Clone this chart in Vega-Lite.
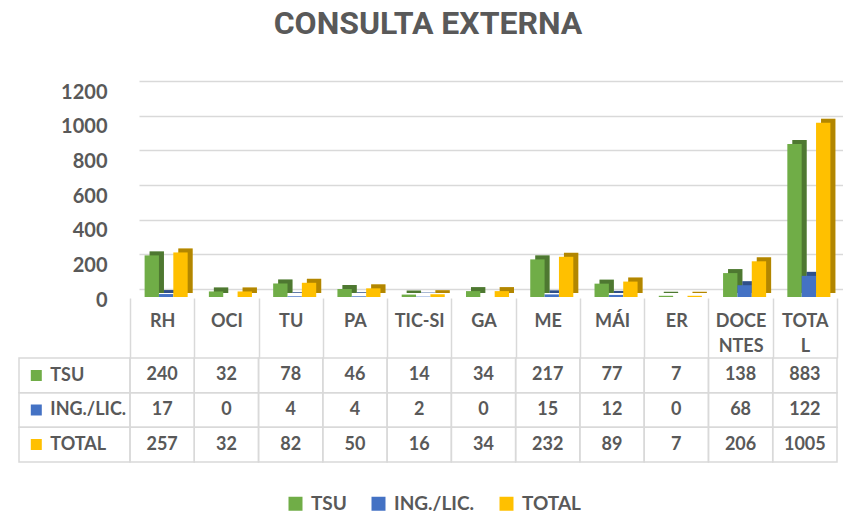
{
  "$schema": "https://vega.github.io/schema/vega-lite/v6.json",
  "padding": {"left": 18, "top": 8, "right": 5, "bottom": 4},
  "background": "white",
  "title": {"text": "CONSULTA EXTERNA", "font": "Roboto", "fontSize": 32, "fontWeight": "bold", "color": "#595959", "anchor": "middle", "offset": 40},
  "datasets": {
    "main": [
      {"cat": "RH", "series": "TSU", "value": 240},
      {"cat": "OCI", "series": "TSU", "value": 32},
      {"cat": "TU", "series": "TSU", "value": 78},
      {"cat": "PA", "series": "TSU", "value": 46},
      {"cat": "TIC-SI", "series": "TSU", "value": 14},
      {"cat": "GA", "series": "TSU", "value": 34},
      {"cat": "ME", "series": "TSU", "value": 217},
      {"cat": "MÁI", "series": "TSU", "value": 77},
      {"cat": "ER", "series": "TSU", "value": 7},
      {"cat": "DOCENTES", "series": "TSU", "value": 138},
      {"cat": "TOTAL", "series": "TSU", "value": 883},
      {"cat": "RH", "series": "ING./LIC.", "value": 17},
      {"cat": "OCI", "series": "ING./LIC.", "value": 0},
      {"cat": "TU", "series": "ING./LIC.", "value": 4},
      {"cat": "PA", "series": "ING./LIC.", "value": 4},
      {"cat": "TIC-SI", "series": "ING./LIC.", "value": 2},
      {"cat": "GA", "series": "ING./LIC.", "value": 0},
      {"cat": "ME", "series": "ING./LIC.", "value": 15},
      {"cat": "MÁI", "series": "ING./LIC.", "value": 12},
      {"cat": "ER", "series": "ING./LIC.", "value": 0},
      {"cat": "DOCENTES", "series": "ING./LIC.", "value": 68},
      {"cat": "TOTAL", "series": "ING./LIC.", "value": 122},
      {"cat": "RH", "series": "TOTAL", "value": 257},
      {"cat": "OCI", "series": "TOTAL", "value": 32},
      {"cat": "TU", "series": "TOTAL", "value": 82},
      {"cat": "PA", "series": "TOTAL", "value": 50},
      {"cat": "TIC-SI", "series": "TOTAL", "value": 16},
      {"cat": "GA", "series": "TOTAL", "value": 34},
      {"cat": "ME", "series": "TOTAL", "value": 232},
      {"cat": "MÁI", "series": "TOTAL", "value": 89},
      {"cat": "ER", "series": "TOTAL", "value": 7},
      {"cat": "DOCENTES", "series": "TOTAL", "value": 206},
      {"cat": "TOTAL", "series": "TOTAL", "value": 1005}
    ],
    "series": [
      {"series": "TSU"},
      {"series": "ING./LIC."},
      {"series": "TOTAL"}
    ]
  },
  "columns": 2,
  "spacing": {"row": 69, "column": 0},
  "bounds": "flush",
  "resolve": {"legend": {"color": "independent"}, "scale": {"x": "independent", "y": "independent"}},
  "concat": [
    {
      "width": 111, "height": 208,
      "data": {"name": "series"},
      "mark": {"type": "text", "text": ""},
      "encoding": {}
    },
    {
      "width": 707, "height": 208,
      "data": {"name": "main"},
      "encoding": {
        "y": {"field": "value", "type": "quantitative", "scale": {"domain": [0, 1200], "nice": false},
          "axis": {"values": [0, 200, 400, 600, 800, 1000, 1200], "format": "d", "title": null, "grid": true, "gridColor": "#d9d9d9", "gridWidth": 1.5, "domain": false, "ticks": false, "labelFont": "Lato", "labelFontSize": 20, "labelFontWeight": "bold", "labelColor": "#595959", "labelPadding": 23, "labelOffset": 11}},
        "xOffset": {"field": "series", "type": "nominal", "sort": null, "scale": {"domain": ["TSU", "ING./LIC.", "TOTAL"], "paddingInner": 0, "paddingOuter": 0}}
      },
      "layer": [
        {
          "mark": {"type": "bar", "yOffset": 4, "y2Offset": 4},
          "encoding": {
            "x": {"field": "cat", "type": "nominal", "sort": null, "scale": {"domain": ["RH", "OCI", "TU", "PA", "TIC-SI", "GA", "ME", "MÁI", "ER", "DOCENTES", "TOTAL"], "range": [9, 716], "paddingInner": 0.33, "paddingOuter": 0.165}, "axis": null},
            "color": {"field": "series", "type": "nominal", "sort": null, "scale": {"domain": ["TSU", "ING./LIC.", "TOTAL"], "range": ["#70AD47", "#4472C4", "#FFC000"]},
              "legend": {"title": null, "orient": "none", "legendX": 156, "legendY": 413, "direction": "horizontal", "symbolType": "square", "symbolSize": 196, "symbolStrokeWidth": 0, "labelFont": "Lato", "labelFontSize": 19, "labelFontWeight": "bold", "labelColor": "#595959", "labelOffset": 6, "columnPadding": 22, "padding": 0}}
          }
        },
        {
          "mark": {"type": "bar", "yOffset": 4, "y2Offset": 4, "color": "black", "opacity": 0.3},
          "encoding": {
            "x": {"field": "cat", "type": "nominal", "sort": null, "scale": {"domain": ["RH", "OCI", "TU", "PA", "TIC-SI", "GA", "ME", "MÁI", "ER", "DOCENTES", "TOTAL"], "range": [9, 716], "paddingInner": 0.33, "paddingOuter": 0.165}, "axis": null}
          }
        },
        {
          "mark": {"type": "bar", "yOffset": 8, "y2Offset": 8},
          "encoding": {
            "x": {"field": "cat", "type": "nominal", "sort": null, "scale": {"domain": ["RH", "OCI", "TU", "PA", "TIC-SI", "GA", "ME", "MÁI", "ER", "DOCENTES", "TOTAL"], "range": [4, 711], "paddingInner": 0.33, "paddingOuter": 0.165}, "axis": null},
            "color": {"field": "series", "type": "nominal", "sort": null, "scale": {"domain": ["TSU", "ING./LIC.", "TOTAL"], "range": ["#70AD47", "#4472C4", "#FFC000"]},
              "legend": {"title": null, "orient": "none", "legendX": 156, "legendY": 413, "direction": "horizontal", "symbolType": "square", "symbolSize": 196, "symbolStrokeWidth": 0, "labelFont": "Lato", "labelFontSize": 19, "labelFontWeight": "bold", "labelColor": "#595959", "labelOffset": 6, "columnPadding": 22, "padding": 0}}
          }
        }
      ],
      "resolve": {"scale": {"x": "independent", "xOffset": "independent"}}
    },
    {
      "width": 111, "height": 104,
      "data": {"name": "series"},
      "encoding": {
        "y": {"field": "series", "type": "nominal", "sort": null, "scale": {"domain": ["TSU", "ING./LIC.", "TOTAL"], "paddingInner": 0, "paddingOuter": 0}, "axis": null}
      },
      "layer": [
        {"mark": {"type": "rect", "filled": false, "stroke": "#d9d9d9", "strokeWidth": 1.5}},
        {
          "mark": {"type": "point", "opacity": 0, "filled": true, "shape": "square"},
          "encoding": {
            "color": {"field": "series", "type": "nominal", "sort": null, "scale": {"domain": ["TSU", "ING./LIC.", "TOTAL"], "range": ["#70AD47", "#4472C4", "#FFC000"]},
              "legend": {"title": null, "orient": "none", "legendX": 8.3, "legendY": 8.5, "direction": "vertical", "symbolType": "square", "symbolSize": 121, "symbolOpacity": 1, "symbolStrokeWidth": 0, "labelFont": "Lato", "labelFontSize": 18, "labelFontWeight": "bold", "labelColor": "#595959", "labelOffset": 5, "rowPadding": 16.5, "padding": 0}}
          }
        }
      ]
    },
    {
      "width": 707, "height": 104,
      "data": {"name": "main"},
      "encoding": {
        "x": {"field": "cat", "type": "nominal", "sort": null, "scale": {"domain": ["RH", "OCI", "TU", "PA", "TIC-SI", "GA", "ME", "MÁI", "ER", "DOCENTES", "TOTAL"], "paddingInner": 0, "paddingOuter": 0},
          "axis": {"orient": "top", "title": null, "domain": false, "tickBand": "extent", "tickSize": 60, "tickColor": "#d9d9d9", "tickWidth": 1.5, "labelAngle": 0, "labelFont": "Lato", "labelFontSize": 18, "labelFontWeight": "bold", "labelColor": "#595959", "labelBaseline": "top", "labelPadding": -14, "labelLineHeight": 25.5, "labelOverlap": false, "labelBound": false,
            "labelExpr": "datum.value == 'DOCENTES' ? ['DOCE', 'NTES'] : datum.value == 'TOTAL' ? ['TOTA', 'L'] : datum.value"}},
        "y": {"field": "series", "type": "nominal", "sort": null, "scale": {"domain": ["TSU", "ING./LIC.", "TOTAL"], "paddingInner": 0, "paddingOuter": 0}, "axis": null}
      },
      "layer": [
        {"mark": {"type": "rect", "filled": false, "stroke": "#d9d9d9", "strokeWidth": 1.5}},
        {
          "mark": {"type": "text", "font": "Lato", "fontSize": 18, "fontWeight": "bold", "color": "#595959"},
          "encoding": {"text": {"field": "value", "type": "quantitative", "format": "d"}}
        }
      ]
    }
  ],
  "config": {
    "view": {"stroke": null},
    "font": "Lato"
  }
}
